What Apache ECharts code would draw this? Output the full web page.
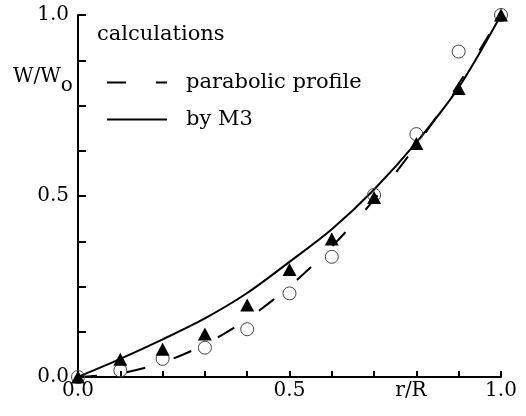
<!DOCTYPE html>
<html>
<head>
<meta charset="utf-8">
<script src="https://cdn.jsdelivr.net/npm/echarts@6/dist/echarts.min.js"></script>
<style>
html,body{margin:0;padding:0;background:#fff;}
#chart{width:526px;height:416px;}
</style>
</head>
<body>
<div id="chart"></div>
<script>
// r/R positions
const xs = [0, 0.1, 0.2, 0.3, 0.4, 0.5, 0.6, 0.7, 0.8, 0.9, 1.0];
// calculations: parabolic profile (dashed)
const parabolicY = [0, 0.01, 0.04, 0.09, 0.16, 0.25, 0.36, 0.49, 0.64, 0.81, 1.0];
// calculations: by M3 (solid)
const m3Y = [0, 0.05, 0.104, 0.162, 0.232, 0.318, 0.408, 0.518, 0.648, 0.80, 1.0];
// measured points (filled triangles)
const triangleY = [0, 0.049, 0.077, 0.119, 0.199, 0.297, 0.381, 0.496, 0.645, 0.797, 1.0];
// measured points (open circles)
const circleY = [0, 0.018, 0.05, 0.081, 0.132, 0.231, 0.332, 0.503, 0.671, 0.899, 1.0];
// tick labels shown
const xTickLabels = ['0.0', '0.5', '1.0'];
const yTickLabels = ['0.0', '0.5', '1.0'];
const xName = 'r/R';
const legendTitle = 'calculations';
const seriesNames = ['parabolic profile', 'by M3'];

const FONT = 'DejaVu Serif';
const pair = (ys) => xs.map((x, i) => [x, ys[i]]);
const pick = (labels) => (v) => {
  const s = Number(v).toFixed(1);
  const isMajor = Math.abs(v * 2 - Math.round(v * 2)) < 1e-6;
  return isMajor && labels.indexOf(s) >= 0 ? s : '';
};

const chart = echarts.init(document.getElementById('chart'), null, {renderer: 'canvas'});
chart.setOption({
  animation: false,
  backgroundColor: '#fff',
  grid: {left: 78, right: 25, top: 15, bottom: 39},
  xAxis: {
    type: 'value', min: 0, max: 1, interval: 0.1,
    axisLine: {lineStyle: {color: '#000', width: 2}},
    axisTick: {inside: true, length: 6, lineStyle: {color: '#000', width: 2}},
    axisLabel: {formatter: pick(xTickLabels), color: '#000', fontFamily: FONT, fontSize: 20, margin: 4, showMinLabel: true, showMaxLabel: true},
    splitLine: {show: false}
  },
  yAxis: {
    type: 'value', min: 0, max: 1, interval: 0.125,
    axisLine: {show: true, lineStyle: {color: '#000', width: 2}},
    axisTick: {show: true, inside: true, length: 8, lineStyle: {color: '#000', width: 2}},
    axisLabel: {formatter: pick(yTickLabels), color: '#000', fontFamily: FONT, fontSize: 20, margin: 9, showMinLabel: true, showMaxLabel: true},
    splitLine: {show: false}
  },
  legend: {
    orient: 'vertical', left: 106, top: 72, padding: 0,
    itemWidth: 60, itemHeight: 14, itemGap: 16,
    itemStyle: {opacity: 0},
    textStyle: {color: '#000', fontFamily: FONT, fontSize: 21, padding: [0, 0, 0, 14]},
    data: seriesNames
  },
  graphic: [
    {type: 'text', left: 97, top: 24, style: {text: legendTitle, fill: '#000', font: '21px "' + FONT + '"'}},
    {type: 'text', left: 13, top: 67, style: {
      text: '{a|W/W}{b|o}',
      rich: {
        a: {fontFamily: FONT, fontSize: 20, fill: '#000', color: '#000'},
        b: {fontFamily: FONT, fontSize: 20, fill: '#000', color: '#000', padding: [18, 0, 0, 0]}
      }
    }},
    {type: 'text', x: 411, y: 391, style: {text: xName, fill: '#000', font: '20px "' + FONT + '"', align: 'center', verticalAlign: 'middle'}}
  ],
  series: [
    {
      name: seriesNames[0], type: 'line', data: pair(parabolicY), smooth: 0.3,
      symbol: 'none', showSymbol: false, z: 2,
      lineStyle: {color: '#000', width: 2, type: [19, 30]}, itemStyle: {color: '#000'}
    },
    {
      name: seriesNames[1], type: 'line', data: pair(m3Y), smooth: 0.3,
      symbol: 'none', showSymbol: false, z: 2,
      lineStyle: {color: '#000', width: 2, type: 'solid'}, itemStyle: {color: '#000'}
    },
    {
      name: 'circles', type: 'scatter', data: pair(circleY), symbol: 'circle', symbolSize: 13,
      clip: false, z: 3,
      itemStyle: {color: 'rgba(255,255,255,0)', borderColor: '#444', borderWidth: 1, opacity: 1}
    },
    {
      name: 'triangles', type: 'scatter', data: pair(triangleY), symbol: 'triangle', symbolSize: [14, 13],
      clip: false, z: 4,
      itemStyle: {color: '#000', opacity: 1}
    }
  ]
});
</script>
</body>
</html>
